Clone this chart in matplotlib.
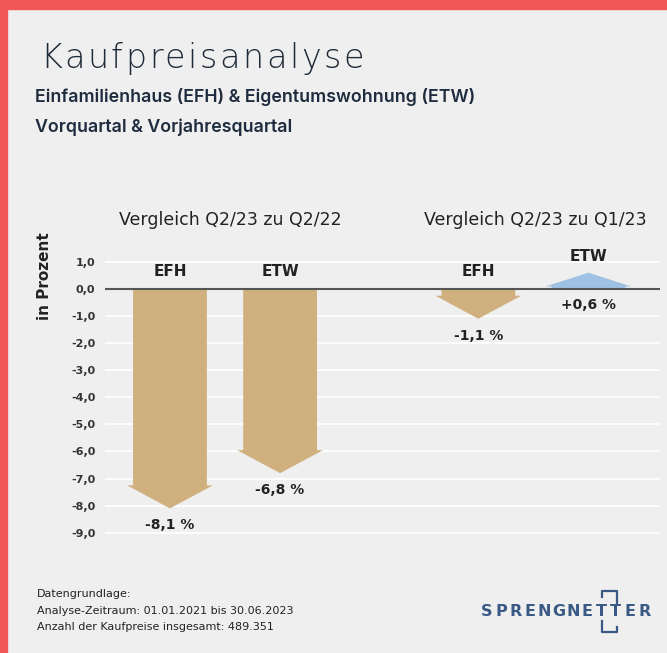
import matplotlib.pyplot as plt
from matplotlib.patches import Rectangle
from matplotlib.lines import Line2D

# data
groups = ['Vergleich Q2/23 zu Q2/22', 'Vergleich Q2/23 zu Q1/23']
categories = ['EFH', 'ETW', 'EFH', 'ETW']
values = [-8.1, -6.8, -1.1, 0.6]
value_labels = ['-8,1 %', '-6,8 %', '-1,1 %', '+0,6 %']
yticks = [1, 0, -1, -2, -3, -4, -5, -6, -7, -8, -9]
ytick_labels = ['1,0', '0,0', '-1,0', '-2,0', '-3,0', '-4,0', '-5,0', '-6,0', '-7,0', '-8,0', '-9,0']
footer_lines = ['Datengrundlage:',
                'Analyse-Zeitraum: 01.01.2021 bis 30.06.2023',
                'Anzahl der Kaufpreise insgesamt: 489.351']

bg = '#efefef'
tan = '#cfb07e'
blue = '#9fc2e4'
navy = '#1f2c3f'
dark = '#222222'

xpos = [0, 1, 2.8, 3.8]

W, H = 667, 653
fig = plt.figure(figsize=(W / 100, H / 100), dpi=100)
fig.patch.set_facecolor(bg)


def tracked_text(x_px, y_px, s, spacing, **kw):
    # write text char by char with extra letter spacing (pixels);
    # the offset of each char comes from the width of the text before it
    r = fig.canvas.get_renderer()
    for i, ch in enumerate(s):
        off = 0
        if i > 0:
            probe = fig.text(0, 0, s[:i] + ch, **kw)
            probe2 = fig.text(0, 0, ch, **kw)
            off = probe.get_window_extent(renderer=r).width - probe2.get_window_extent(renderer=r).width
            probe.remove()
            probe2.remove()
        fig.text((x_px + off + i * spacing) / W, 1 - y_px / H, ch, va='baseline', ha='left', **kw)


# red frame on left and top
fig.patches.append(Rectangle((0, 0), 7 / W, 1, transform=fig.transFigure, color='#f25757', zorder=10))
fig.patches.append(Rectangle((0, 1 - 9 / H), 1, 9 / H, transform=fig.transFigure, color='#f25757', zorder=10))

ax = fig.add_axes([105 / W, 1 - 549 / H, 555 / W, 298 / H])
ax.set_facecolor(bg)
ax.set_xlim(-0.59, 4.45)
ax.set_ylim(-9.6, 1.4)
for s in ax.spines.values():
    s.set_visible(False)

ax.set_yticks(yticks)
ax.set_yticklabels(ytick_labels, fontsize=8, fontweight='bold', color='#333333')
ax.tick_params(axis='y', length=0, pad=7)
ax.set_xticks([])
for t in yticks:
    if t != 0:
        ax.axhline(t, color='white', lw=1.2, zorder=0)
ax.axhline(0, color='#555555', lw=1.5, zorder=3)

ax.set_ylabel('in Prozent', fontsize=11, color=dark, fontweight='semibold')
ax.yaxis.set_label_coords(-0.096, 0.916)

for x, v, lab, vl in zip(xpos, values, categories, value_labels):
    color = tan if v < 0 else blue
    hl = min(0.85, 0.85 * abs(v))
    ax.arrow(x, 0, 0, v, width=0.67, head_width=0.78, head_length=hl,
             length_includes_head=True, color=color, lw=0, zorder=2)
    if v < 0:
        ax.text(x, 0.65, lab, ha='center', va='center', fontsize=11, fontweight='bold', color=dark)
        ax.text(x, v - 0.62, vl, ha='center', va='center', fontsize=10, fontweight='bold', color=dark)
    else:
        ax.text(x, v + 0.6, lab, ha='center', va='center', fontsize=11, fontweight='bold', color=dark)
        ax.text(x, -0.6, vl, ha='center', va='center', fontsize=10, fontweight='bold', color=dark)

ax.text((xpos[0] + xpos[1]) / 2 + 0.045, 2.55, groups[0], ha='center', va='center',
        fontsize=12.5, color=dark, fontweight='medium')
ax.text((xpos[2] + xpos[3]) / 2 + 0.02, 2.55, groups[1], ha='center', va='center',
        fontsize=12.5, color=dark, fontweight='medium')

# titles
tracked_text(40, 68, 'Kaufpreisanalyse', 2.6, fontsize=24, fontweight=200,
             color='#1f2a38', family=['DejaVu Sans'])
fig.text(35 / W, 1 - 97 / H, 'Einfamilienhaus (EFH) & Eigentumswohnung (ETW)', fontsize=12.8,
         fontweight='semibold', color=navy, va='center', family=['Inter', 'DejaVu Sans'])
fig.text(35 / W, 1 - 127 / H, 'Vorquartal & Vorjahresquartal', fontsize=12.8,
         fontweight='semibold', color=navy, va='center', family=['Inter', 'DejaVu Sans'])

# footer
for i, line in enumerate(footer_lines):
    fig.text(37 / W, 1 - (594 + i * 16.5) / H, line, fontsize=8, color=dark, va='center')

# logo, letters spread out
logo_color = '#3a5a85'
logo = 'SPRENGNETTER'
for i, ch in enumerate(logo):
    fig.text((487 + i * 14.3) / W, 1 - 612 / H, ch, fontsize=11.5, color=logo_color,
             ha='center', va='center', family=['DejaVu Sans'], fontweight='bold')
fig.lines.append(Line2D([602 / W, 602 / W, 617 / W, 617 / W],
                        [1 - 597 / H, 1 - 591 / H, 1 - 591 / H, 1 - 603 / H],
                        transform=fig.transFigure, color=logo_color, lw=1.6))
fig.lines.append(Line2D([602 / W, 602 / W, 617 / W, 617 / W],
                        [1 - 621 / H, 1 - 632 / H, 1 - 632 / H, 1 - 627 / H],
                        transform=fig.transFigure, color=logo_color, lw=1.6))

fig.savefig('out.png', dpi=100, facecolor=bg)
